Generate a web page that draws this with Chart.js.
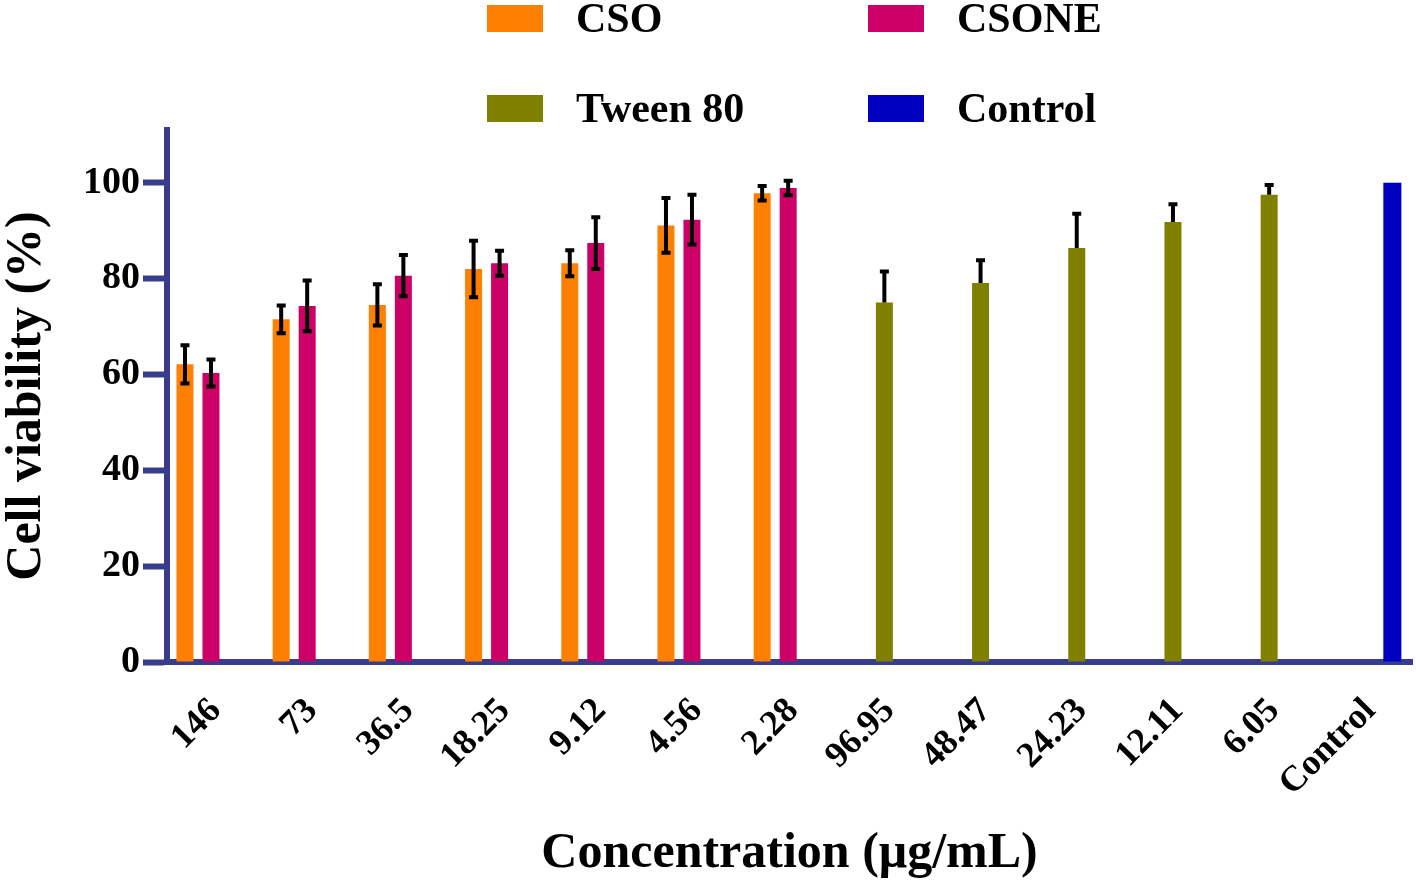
<!DOCTYPE html>
<html>
<head>
<meta charset="utf-8">
<title>Cell viability</title>
<script src="https://cdn.jsdelivr.net/npm/chart.js@4.4.0/dist/chart.umd.min.js"></script>
<style>
    body { margin: 0; background: #fff; }
    #wrap { position: relative; width: 1416px; height: 885px; }
    #legend {
        position: absolute; left: 487px; top: 5px;
        display: grid; grid-template-columns: 381px auto; row-gap: 63px;
        font: bold 42px 'Liberation Serif', 'Times New Roman', serif; color: #000;
    }
    .item { display: flex; align-items: center; height: 27px; line-height: 27px; white-space: nowrap; }
    .swatch { width: 56px; height: 27px; margin-right: 33px; }
</style>
</head>
<body>
<div id="wrap">
    <canvas id="chart" width="1416" height="885"></canvas>
    <div id="legend"></div>
</div>
<script>
// Data
const concentrations = ['146', '73', '36.5', '18.25', '9.12', '4.56', '2.28',
    '96.95', '48.47', '24.23', '12.11', '6.05', 'Control'];

const csoValues   = [62.1, 71.5, 74.5, 82.0, 83.2, 91.1, 97.8, null, null, null, null, null, null];
const csoErrors   = [4.0, 2.9, 4.3, 5.9, 2.7, 5.7, 1.5, null, null, null, null, null, null];
const csoneValues = [60.3, 74.3, 80.6, 83.2, 87.4, 92.3, 98.9, null, null, null, null, null, null];
const csoneErrors = [2.8, 5.3, 4.3, 2.6, 5.4, 5.2, 1.5, null, null, null, null, null, null];
const tweenValues = [null, null, null, null, null, null, null, 75.0, 79.1, 86.4, 91.8, 97.5, null];
const tweenErrors = [null, null, null, null, null, null, null, 6.5, 4.7, 7.1, 3.7, 2.0, null];
const controlValues = [null, null, null, null, null, null, null, null, null, null, null, null, 100];

const yTicks = [0, 20, 40, 60, 80, 100];

const seriesNames  = ['CSO', 'CSONE', 'Tween 80', 'Control'];
const seriesColors = ['#FF7F00', '#CC0066', '#808000', '#0000C0'];

const axisColor = '#383C8A';
const serif = "'Liberation Serif', 'Times New Roman', serif";

// Legend (2 x 2 grid like the original)
const legendEl = document.getElementById('legend');
seriesNames.forEach((name, i) => {
    const item = document.createElement('div');
    item.className = 'item';
    item.innerHTML = `<span class="swatch" style="background:${seriesColors[i]}"></span><span>${name}</span>`;
    legendEl.appendChild(item);
});

// Error bars: symmetric for CSO / CSONE, upper only for Tween 80
const errorBars = {
    id: 'errorBars',
    afterDatasetsDraw(chart) {
        const { ctx } = chart;
        const y = chart.scales.y;
        ctx.save();
        ctx.strokeStyle = '#000';
        ctx.lineWidth = 4;
        chart.data.datasets.forEach((ds, i) => {
            if (!ds.errors) return;
            const meta = chart.getDatasetMeta(i);
            meta.data.forEach((bar, j) => {
                const v = ds.data[j];
                const e = ds.errors[j];
                if (v == null || e == null) return;
                const top = y.getPixelForValue(v + e);
                const bottom = y.getPixelForValue(ds.upperOnly ? v : v - e);
                ctx.beginPath();
                ctx.moveTo(bar.x, top);
                ctx.lineTo(bar.x, bottom);
                ctx.moveTo(bar.x - 4.5, top);
                ctx.lineTo(bar.x + 4.5, top);
                if (!ds.upperOnly) {
                    ctx.moveTo(bar.x - 4.5, bottom);
                    ctx.lineTo(bar.x + 4.5, bottom);
                }
                ctx.stroke();
            });
        });
        ctx.restore();
    }
};

const barStyle = { categoryPercentage: 0.5405, barPercentage: 0.654, borderWidth: 0 };
// the control bar sits further right of its label in the original
const controlStyle = { categoryPercentage: 1.663, barPercentage: 0.2256, borderWidth: 0 };

new Chart(document.getElementById('chart'), {
    type: 'bar',
    data: {
        labels: concentrations.map((_, i) => i),
        datasets: [
            { label: seriesNames[0], data: csoValues, errors: csoErrors, backgroundColor: seriesColors[0], stack: 'a', ...barStyle },
            { label: seriesNames[1], data: csoneValues, errors: csoneErrors, backgroundColor: seriesColors[1], stack: 'b', ...barStyle },
            { label: seriesNames[2], data: tweenValues, errors: tweenErrors, upperOnly: true, backgroundColor: seriesColors[2], stack: 'b', ...barStyle },
            { label: seriesNames[3], data: controlValues, backgroundColor: seriesColors[3], stack: 'b', ...controlStyle }
        ]
    },
    options: {
        responsive: false,
        animation: false,
        layout: { padding: { top: 130, right: 4, left: 0, bottom: 0 } },
        plugins: {
            legend: { display: false },
            tooltip: { enabled: false }
        },
        scales: {
            x: {
                type: 'linear',
                min: -0.322,
                max: 12.62,
                offset: false,
                z: 1,
                afterBuildTicks: s => { s.ticks = concentrations.map((_, i) => ({ value: i })); },
                afterFit: s => { s.height = 223; },
                ticks: {
                    autoSkip: false,
                    minRotation: 45,
                    maxRotation: 45,
                    padding: 28,
                    labelOffset: 18,
                    color: '#000',
                    font: { family: serif, size: 36, weight: 'bold' },
                    callback: v => concentrations[v]
                },
                grid: { display: false, drawTicks: false },
                border: { display: true, width: 6, color: axisColor },
                title: {
                    display: true,
                    text: 'Concentration (μg/mL)',
                    color: '#000',
                    font: { family: serif, size: 50, weight: 'bold', lineHeight: 1.1 },
                    padding: { top: 0, bottom: 3 }
                }
            },
            y: {
                min: 0,
                max: 111,
                stacked: false,
                z: 1,
                afterBuildTicks: s => { s.ticks = yTicks.map(v => ({ value: v })); },
                afterFit: s => { s.width = 167; },
                ticks: {
                    padding: 3,
                    color: '#000',
                    font: { family: serif, size: 38, weight: 'bold' }
                },
                grid: {
                    drawOnChartArea: false,
                    drawTicks: true,
                    tickLength: 24,
                    tickWidth: 6,
                    tickColor: axisColor,
                    color: axisColor
                },
                border: { display: true, width: 6, color: axisColor },
                title: {
                    display: true,
                    text: 'Cell viability (%)',
                    color: '#000',
                    font: { family: serif, size: 50, weight: 'bold', lineHeight: 1.1 },
                    padding: { top: 0, bottom: 0 }
                }
            }
        }
    },
    plugins: [errorBars]
});
</script>
</body>
</html>
